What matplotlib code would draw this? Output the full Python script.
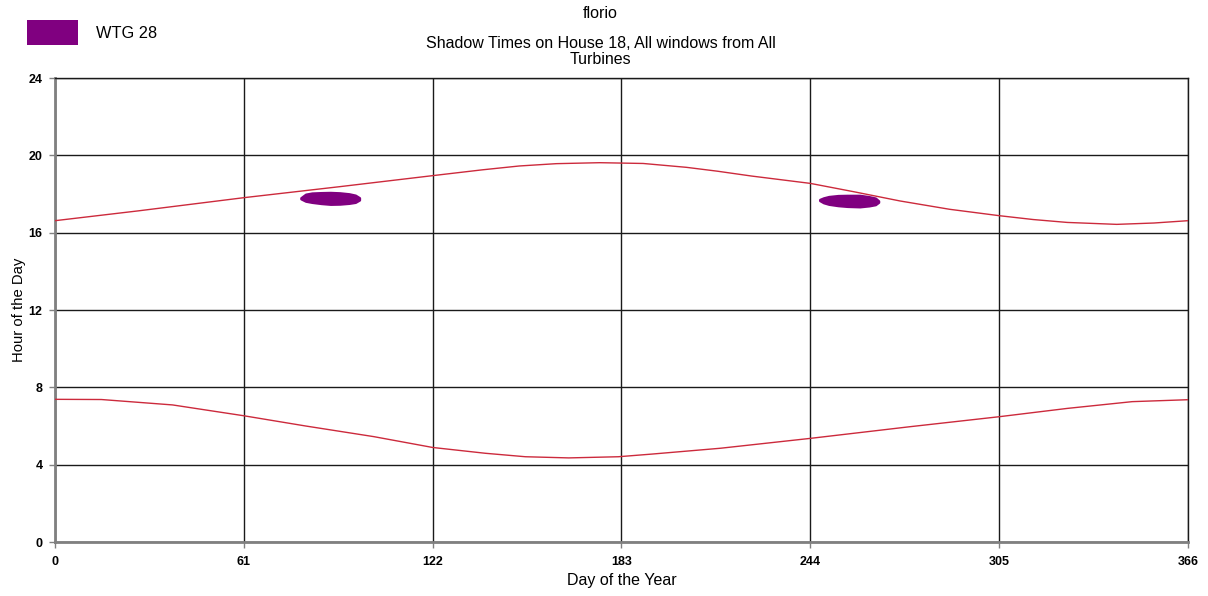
import matplotlib
matplotlib.use("Agg")
import matplotlib.pyplot as plt
from matplotlib.patches import Rectangle

plt.rcParams['font.family'] = ['Liberation Sans', 'DejaVu Sans']

# Sunset / sunrise boundaries (hour of day) across the year
sunset_days = [0, 27, 61, 92, 122, 138, 150, 162, 176, 190, 204, 214, 225, 244, 258, 273, 289,
               305, 316, 327, 343, 355, 366]
sunset_hours = [16.62, 17.13, 17.81, 18.38, 18.95, 19.25, 19.45, 19.57, 19.62, 19.58, 19.38,
                19.18, 18.93, 18.55, 18.12, 17.64, 17.21, 16.88, 16.68, 16.53, 16.43, 16.50, 16.62]

sunrise_days = [0, 15, 38, 61, 81, 103, 122, 139, 152, 166, 182, 193, 215, 244, 276, 305, 327,
                348, 366]
sunrise_hours = [7.38, 7.37, 7.09, 6.53, 6.00, 5.45, 4.89, 4.59, 4.41, 4.35, 4.41, 4.55,
                 4.85, 5.36, 5.96, 6.48, 6.91, 7.26, 7.36]

# Shadow periods from WTG 28 (start / end hour per day)
spring_days = [79.5, 81, 83, 86, 89, 92, 95, 97, 98.3]
spring_start = [17.76, 17.64, 17.58, 17.52, 17.48, 17.49, 17.53, 17.58, 17.70]
spring_end = [17.80, 17.98, 18.04, 18.06, 18.07, 18.05, 18.00, 17.93, 17.80]

autumn_days = [247.1, 248.3, 250, 253, 256, 260, 263, 265, 266]
autumn_start = [17.67, 17.56, 17.48, 17.41, 17.37, 17.35, 17.40, 17.46, 17.58]
autumn_end = [17.71, 17.79, 17.86, 17.91, 17.92, 17.92, 17.85, 17.78, 17.64]

turbine_name = "WTG 28"
x_ticks = [0, 61, 122, 183, 244, 305, 366]
y_ticks = [0, 4, 8, 12, 16, 20, 24]

shadow_color = "#800080"
curve_color = "#cc2a3c"

fig = plt.figure(figsize=(12.08, 5.96), dpi=100)
ax = fig.add_axes([0.0455, 0.0906, 0.9379, 0.7785])

ax.plot(sunset_days, sunset_hours, color=curve_color, lw=1.0, zorder=3)
ax.plot(sunrise_days, sunrise_hours, color=curve_color, lw=1.0, zorder=3)

for d, s, e in [(spring_days, spring_start, spring_end),
                (autumn_days, autumn_start, autumn_end)]:
    ax.fill_between(d, s, e, color=shadow_color, lw=2.0, edgecolor=shadow_color,
                    joinstyle='round', zorder=4)

ax.set_xlim(0, 366)
ax.set_ylim(0, 24)
ax.set_xticks(x_ticks)
ax.set_yticks(y_ticks)
ax.set_xticklabels([str(t) for t in x_ticks], fontsize=9, fontweight='bold')
ax.set_yticklabels([str(t) for t in y_ticks], fontsize=9, fontweight='bold')
ax.tick_params(axis='both', direction='out', length=4, width=1, color='#808080')
ax.tick_params(axis='x', pad=6)
ax.tick_params(axis='y', pad=5)

ax.grid(True, color='#1a1a1a', lw=1.0, zorder=1)
ax.set_axisbelow(True)
for side in ['left', 'bottom']:
    ax.spines[side].set_color('#808080')
    ax.spines[side].set_linewidth(2)
for side in ['top', 'right']:
    ax.spines[side].set_color('#1a1a1a')
    ax.spines[side].set_linewidth(1)

ax.set_xlabel("Day of the Year", fontsize=11.5, labelpad=4)
ax.set_ylabel("Hour of the Day", fontsize=10.7, labelpad=2)

fig.text(0.497, 1 - 14 / 596, "florio", ha='center', va='center', fontsize=11.5)
fig.text(0.497, 1 - 44 / 596, "Shadow Times on House 18, All windows from All",
         ha='center', va='center', fontsize=11.5)
fig.text(0.497, 1 - 59 / 596, "Turbines", ha='center', va='center', fontsize=11.5)

fig.patches.append(Rectangle((27 / 1208, 1 - 45 / 596), 51 / 1208, 25 / 596,
                             transform=fig.transFigure, facecolor=shadow_color,
                             edgecolor='none'))
fig.text(96 / 1208, 1 - 34 / 596, turbine_name, ha='left', va='center', fontsize=11.8)

fig.savefig("out.png", dpi=100)
